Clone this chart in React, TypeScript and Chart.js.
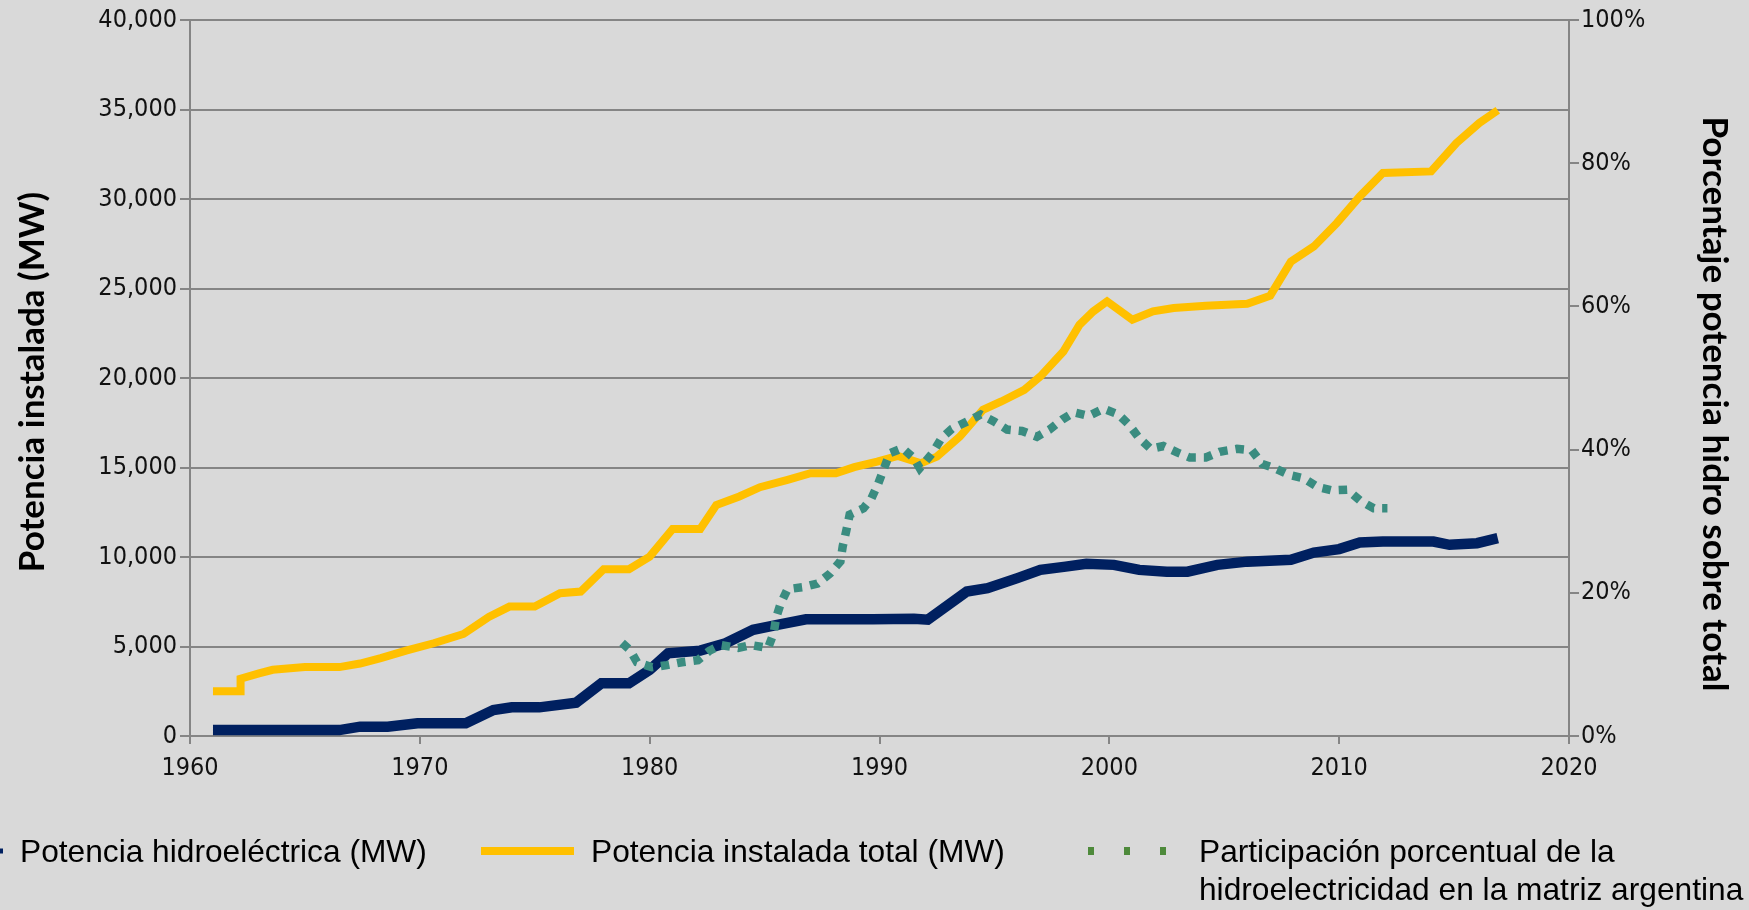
import React, { useEffect, useRef } from 'react';
import { Chart, registerables } from 'chart.js';

Chart.register(...registerables);

// ---- Data ----
const hydroYears = [1961, 1966.5, 1967.4, 1968.6, 1969.9, 1972, 1973.2, 1974, 1975.2, 1976.8, 1977.9, 1979.1, 1980, 1980.8, 1982.2, 1983.3, 1984.5, 1985.5, 1986.8, 1989.7, 1991.5, 1992.1, 1993.8, 1994.7, 1996, 1997, 1998.1, 1999, 2000.2, 2001.3, 2002.5, 2003.4, 2004.7, 2006, 2007.9, 2008.9, 2010, 2010.9, 2011.9, 2014.1, 2014.8, 2016, 2016.9];
const hydroMW = [330, 330, 520, 520, 710, 710, 1450, 1600, 1600, 1860, 2940, 2940, 3690, 4620, 4770, 5180, 5930, 6200, 6520, 6520, 6550, 6500, 8070, 8260, 8820, 9280, 9460, 9620, 9560, 9280, 9180, 9180, 9560, 9740, 9840, 10250, 10440, 10810, 10860, 10860, 10680, 10770, 11050];

const totalYears = [1961, 1962.2, 1962.2, 1963, 1963.6, 1965, 1966.5, 1967.4, 1968.3, 1969.4, 1970.6, 1971.9, 1973, 1973.9, 1975, 1976.1, 1977, 1978, 1979.1, 1980, 1981, 1982.2, 1982.9, 1983.9, 1984.8, 1986, 1987, 1988.1, 1988.9, 1989.9, 1990.8, 1991.8, 1992.5, 1993.5, 1994.5, 1995.3, 1996.3, 1997, 1998, 1998.7, 1999.3, 1999.9, 2001, 2001.9, 2002.8, 2004.2, 2006, 2007, 2007.9, 2008.9, 2009.9, 2010.9, 2011.9, 2014, 2015.1, 2016.1, 2016.9];
const totalMW = [2500, 2500, 3200, 3500, 3700, 3850, 3850, 4050, 4350, 4770, 5180, 5700, 6650, 7230, 7230, 7980, 8070, 9320, 9320, 10020, 11570, 11570, 12900, 13380, 13900, 14310, 14680, 14680, 15020, 15330, 15650, 15240, 15610, 16730, 18220, 18690, 19340, 20090, 21480, 22970, 23720, 24280, 23250, 23720, 23910, 24040, 24150, 24600, 26500, 27350, 28660, 30150, 31450, 31540, 33130, 34250, 34960];

const shareYears = [1978.8, 1979.15, 1979.45, 1980.1, 1980.75, 1981.4, 1982.1, 1982.6, 1983.1, 1983.85, 1984.4, 1985.15, 1985.4, 1985.5, 1985.7, 1986, 1986.7, 1987.3, 1987.85, 1988.3, 1988.4, 1988.55, 1988.7, 1989.3, 1989.65, 1989.95, 1990.2, 1990.45, 1991, 1991.5, 1991.75, 1992.3, 1992.7, 1993.15, 1993.8, 1994.4, 1995, 1995.55, 1996.2, 1996.85, 1997.4, 1997.95, 1998.45, 1999.1, 1999.75, 2000.4, 2000.85, 2001.3, 2001.8, 2002.35, 2002.95, 2003.5, 2004.2, 2004.8, 2005.55, 2006.2, 2006.65, 2007.2, 2007.8, 2008.45, 2009.05, 2009.7, 2010.35, 2010.9, 2011.5, 2012.1];
const sharePct = [13.0, 12.0, 10.3, 9.6, 9.9, 10.3, 10.6, 11.9, 12.7, 12.3, 12.7, 12.3, 14.4, 16.5, 18.5, 20.5, 20.8, 21.3, 22.7, 24.4, 26.5, 28.6, 30.9, 31.8, 33.2, 35.3, 37.4, 39.5, 40.2, 38.8, 37.4, 39.5, 41.6, 42.9, 43.9, 44.9, 43.9, 42.8, 42.6, 41.8, 42.8, 44.2, 45.2, 44.7, 45.7, 44.9, 43.5, 41.6, 40.1, 40.5, 39.6, 38.9, 38.9, 39.7, 40.1, 39.9, 38.0, 37.4, 36.5, 36.0, 34.8, 34.3, 34.4, 32.9, 31.8, 31.8];

const legendLabels: (string | string[])[] = [
  'Potencia hidroeléctrica (MW)',
  'Potencia instalada total (MW)',
  ['Participación porcentual de la', 'hidroelectricidad en la matriz argentina'],
];
const leftTitle = 'Potencia instalada (MW)';
const rightTitle = 'Porcentaje potencia hidro sobre total';

const NAVY = '#002060';
const GOLD = '#FFC000';
const TEAL = '#3a8c80';
const LEGEND_GREEN = '#4e8a3b';
const GRID = '#858585';
const BG = '#d9d9d9';
const TICK_FONT = { family: '"DejaVu Sans Condensed", "DejaVu Sans", sans-serif', size: 25 };
const TICK_COLOR = '#111111';

const pairs = (xs: number[], ys: number[]) => xs.map((x, i) => ({ x, y: ys[i] }));

const decorPlugin = {
  id: 'decor',
  beforeDraw(chart: any) {
    const ctx = chart.ctx;
    ctx.save();
    ctx.fillStyle = BG;
    ctx.fillRect(0, 0, chart.width, chart.height);
    ctx.restore();
  },
  afterDraw(chart: any) {
    const ctx = chart.ctx;
    ctx.save();
    // axis titles
    ctx.fillStyle = '#000';
    ctx.font = 'bold 35px Lato, "Open Sans", sans-serif';
    ctx.textAlign = 'center';
    ctx.textBaseline = 'middle';
    ctx.save();
    ctx.translate(33, 382);
    ctx.rotate(-Math.PI / 2);
    ctx.fillText(leftTitle, 0, 0);
    ctx.restore();
    ctx.save();
    ctx.translate(1714, 404);
    ctx.rotate(Math.PI / 2);
    ctx.fillText(rightTitle, 0, 0);
    ctx.restore();

    // legend
    const my = 851;
    ctx.lineCap = 'butt';
    ctx.strokeStyle = NAVY;
    ctx.lineWidth = 5;
    ctx.beginPath();
    ctx.moveTo(-60, my);
    ctx.lineTo(3, my);
    ctx.stroke();

    ctx.strokeStyle = GOLD;
    ctx.lineWidth = 8;
    ctx.beginPath();
    ctx.moveTo(481, my);
    ctx.lineTo(574, my);
    ctx.stroke();

    ctx.strokeStyle = LEGEND_GREEN;
    ctx.lineWidth = 8;
    ctx.setLineDash([6, 30]);
    ctx.beginPath();
    ctx.moveTo(1088, my);
    ctx.lineTo(1168, my);
    ctx.stroke();
    ctx.setLineDash([]);

    ctx.fillStyle = '#000';
    ctx.font = '31.7px "Liberation Sans", Arial, sans-serif';
    ctx.textAlign = 'left';
    ctx.textBaseline = 'alphabetic';
    const xs = [20, 591, 1199];
    legendLabels.forEach((lab, i) => {
      const lines = Array.isArray(lab) ? lab : [lab];
      lines.forEach((t, j) => ctx.fillText(t, xs[i], 862 + j * 38));
    });
    ctx.restore();
  },
};

export default function App() {
  const ref = useRef<HTMLCanvasElement | null>(null);
  useEffect(() => {
    document.body.style.margin = '0';
    document.body.style.background = BG;
    if (!ref.current) return;
    const chart = new Chart(ref.current, {
      type: 'line',
      data: {
        datasets: [
          {
            label: 'Participación porcentual',
            data: pairs(shareYears, sharePct),
            yAxisID: 'y2',
            borderColor: TEAL,
            borderWidth: 8.5,
            borderDash: [8.5, 8],
            borderCapStyle: 'butt',
            pointRadius: 0,
            fill: false,
            order: 0,
          },
          {
            label: 'Potencia instalada total (MW)',
            data: pairs(totalYears, totalMW),
            yAxisID: 'y',
            borderColor: GOLD,
            borderWidth: 8,
            pointRadius: 0,
            fill: false,
            order: 1,
          },
          {
            label: 'Potencia hidroeléctrica (MW)',
            data: pairs(hydroYears, hydroMW),
            yAxisID: 'y',
            borderColor: NAVY,
            borderWidth: 10.5,
            pointRadius: 0,
            fill: false,
            order: 2,
          },
        ],
      },
      options: {
        responsive: false,
        animation: false,
        layout: { padding: { top: 20, left: 0, right: 0, bottom: 0 } },
        plugins: { legend: { display: false }, tooltip: { enabled: false } },
        elements: { line: { tension: 0 } },
        scales: {
          x: {
            type: 'linear',
            position: 'bottom',
            min: 1960,
            max: 2020,
            ticks: { stepSize: 10, callback: (v: any) => String(v), font: TICK_FONT, color: TICK_COLOR, padding: 9, maxRotation: 0, autoSkip: false },
            grid: { drawOnChartArea: false, tickLength: 8, color: GRID, lineWidth: 2 },
            border: { display: true, color: GRID, width: 2 },
            afterFit: (s: any) => { s.height = 174; },
          },
          y: {
            position: 'left',
            min: 0,
            max: 40000,
            ticks: { stepSize: 5000, callback: (v: any) => Number(v).toLocaleString('en-US'), font: TICK_FONT, color: TICK_COLOR, padding: 3 },
            grid: { color: GRID, lineWidth: 2, tickLength: 10 },
            border: { display: true, color: GRID, width: 2 },
            afterFit: (s: any) => { s.width = 190; },
          },
          y2: {
            position: 'right',
            min: 0,
            max: 100,
            ticks: { stepSize: 20, callback: (v: any) => v + '%', font: TICK_FONT, color: TICK_COLOR, padding: 2 },
            grid: { drawOnChartArea: false, tickLength: 10, color: GRID, lineWidth: 2 },
            border: { display: true, color: GRID, width: 2 },
            afterFit: (s: any) => { s.width = 180; },
          },
        },
      } as any,
      plugins: [decorPlugin],
    });
    return () => chart.destroy();
  }, []);
  return (
    <div style={{ position: 'absolute', left: 0, top: 0, width: 1749, height: 910, background: BG, overflow: 'hidden' }}>
      <canvas ref={ref} width={1749} height={910} style={{ display: 'block', width: 1749, height: 910 }} />
    </div>
  );
}
